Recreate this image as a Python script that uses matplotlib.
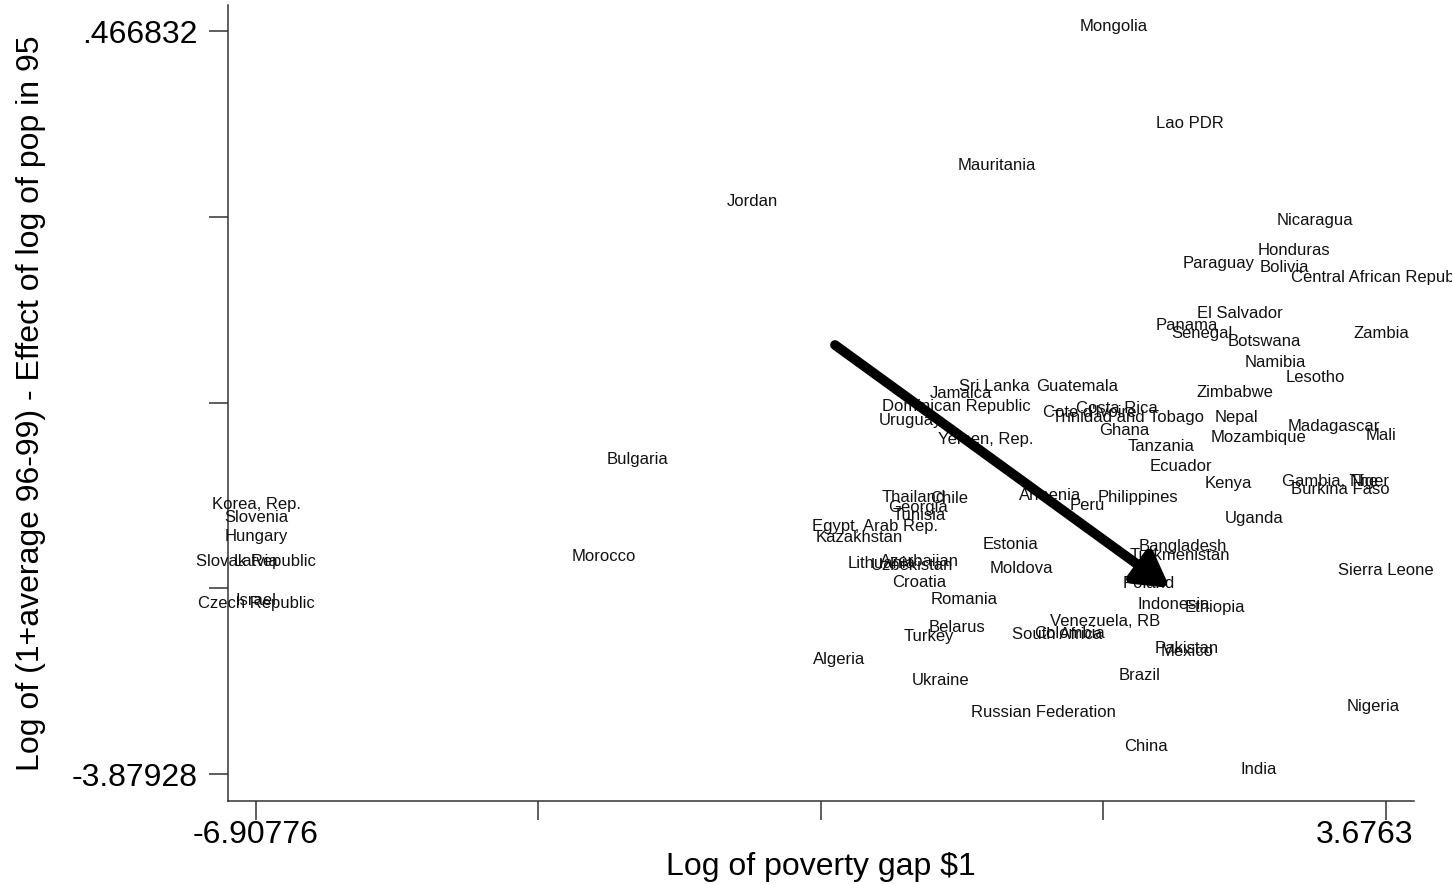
#!/usr/bin/env python3
import matplotlib
matplotlib.use("Agg")
import matplotlib.pyplot as plt
from matplotlib.transforms import ScaledTranslation

plt.rcParams["font.family"] = ["Liberation Sans", "DejaVu Sans"]

# log poverty gap $1 (x) vs residual growth measure (y), one label per country
countries = [
    "Mongolia", "Lao PDR", "Mauritania", "Jordan", "Nicaragua", "Honduras",
    "Paraguay", "Bolivia", "Central African Republic", "El Salvador", "Panama",
    "Senegal", "Botswana", "Zambia", "Namibia", "Lesotho", "Zimbabwe",
    "Sri Lanka", "Guatemala", "Jamaica", "Dominican Republic", "Uruguay",
    "Cote d'Ivoire", "Costa Rica", "Trinidad and Tobago", "Ghana", "Nepal",
    "Madagascar", "Mali", "Mozambique", "Yemen, Rep.", "Tanzania", "Ecuador",
    "Bulgaria", "Kenya", "Gambia, The", "Niger", "Burkina Faso", "Philippines",
    "Armenia", "Peru", "Thailand", "Chile", "Georgia", "Tunisia", "Uganda",
    "Egypt, Arab Rep.", "Kazakhstan", "Estonia", "Bangladesh", "Turkmenistan",
    "Lithuania", "Azerbaijan", "Uzbekistan", "Latvia", "Slovak Republic",
    "Moldova", "Morocco", "Sierra Leone", "Croatia", "Poland", "Romania",
    "Indonesia", "Ethiopia", "Venezuela, RB", "Belarus", "Turkey",
    "South Africa", "Colombia", "Pakistan", "Mexico", "Algeria", "Brazil",
    "Ukraine", "Russian Federation", "Nigeria", "China", "India",
    "Korea, Rep.", "Slovenia", "Hungary", "Czech Republic", "Israel",
]
log_pov_gap = [
    1.1287, 1.8406, 0.0327, -2.2620, 3.0113, 2.8146,
    2.1122, 2.7210, 3.6295, 2.3088, 1.8124,
    1.9529, 2.5336, 3.6295, 2.6366, 3.0113, 2.2620,
    0.0046, 0.7821, -0.3044, -0.3513, -0.7728,
    0.9039, 1.1567, 1.2598, 1.2223, 2.2713,
    3.1892, 3.6295, 2.4868, -0.0703, 1.5688, 1.7562,
    -3.3298, 2.1964, 3.1518, 3.5264, 3.2454, 1.3534,
    0.5292, 0.8757, -0.7447, -0.4169, -0.7072, -0.6979, 2.4400,
    -1.1100, -1.2598, 0.1638, 1.7749, 1.7468,
    -1.0444, -0.6979, -0.7634, -6.90776, -6.90776,
    0.2576, -3.6483, 3.6763, -0.6979, 1.4564, -0.2763,
    1.6906, 2.0746, 1.0443, -0.3419, -0.6042,
    0.5947, 0.7165, 1.8124, 1.8124, -1.4471, 1.3721,
    -0.4918, 0.4636, 3.5545, 1.4283, 2.4868,
    -6.90776, -6.90776, -6.90776, -6.90776, -6.90776,
]
growth_resid = [
    0.466832, -0.1006, -0.3462, -0.5568, -0.6680, -0.8434,
    -0.9195, -0.9429, -1.0014, -1.2120, -1.2822,
    -1.3289, -1.3757, -1.3289, -1.4986, -1.5863, -1.6740,
    -1.6389, -1.6389, -1.6799, -1.7559, -1.8378,
    -1.7910, -1.7676, -1.8203, -1.8963, -1.8203,
    -1.8729, -1.9256, -1.9373, -1.9490, -1.9899, -2.1069,
    -2.0659, -2.2063, -2.1946, -2.1946, -2.2414, -2.2882,
    -2.2765, -2.3350, -2.2882, -2.2941, -2.3467, -2.3935, -2.4111,
    -2.4578, -2.5222, -2.5631, -2.5748, -2.6275,
    -2.6743, -2.6626, -2.6860, -2.6626, -2.6626,
    -2.7035, -2.6333, -2.7152, -2.7854, -2.7913, -2.8849,
    -2.9141, -2.9317, -3.0136, -3.0486, -3.1013,
    -3.0896, -3.0837, -3.1715, -3.1890, -3.2358, -3.3294,
    -3.3586, -3.5458, -3.5107, -3.7447, -3.87928,
    -2.3292, -2.4052, -2.5164, -2.9082, -2.8907,
]

x_ticks = [-6.90776, -4.26175, -1.61573, 1.03029, 3.6763]
x_ticklabels = ["-6.90776", "", "", "", "3.6763"]
y_ticks = [0.466832, -0.61970, -1.70623, -2.79276, -3.87928]
y_ticklabels = [".466832", "", "", "", "-3.87928"]

# annotation arrow (start, end)
arrow_start = (-1.4846, -1.3699)
arrow_end = (1.6531, -2.7913)


def main():
    fig = plt.figure(figsize=(14.52, 8.84), dpi=100)
    ax = fig.add_axes([0.15702, 0.09389, 0.81681, 0.90045])

    for name, x, y in zip(countries, log_pov_gap, growth_resid):
        ax.text(x, y, name, ha="center", va="baseline", fontsize=12,
                color="#111111", clip_on=False)

    ax.annotate("", xy=arrow_end, xytext=arrow_start,
                arrowprops=dict(arrowstyle="-|>,head_length=0.7,head_width=0.4",
                                mutation_scale=28, lw=7, color="black",
                                shrinkA=0, shrinkB=0))

    ax.set_xlim(-7.1700, 3.9386)
    ax.set_ylim(-4.0372, 0.6189)

    ax.set_xticks(x_ticks)
    ax.set_xticklabels(x_ticklabels)
    ax.set_yticks(y_ticks)
    ax.set_yticklabels(y_ticklabels)
    ax.tick_params(axis="x", length=14, width=1.1, pad=0, labelsize=23,
                   color="#333333")
    ax.tick_params(axis="y", length=14, width=1.1, pad=8, labelsize=23,
                   color="#333333")
    # the last x label sits pulled in from its tick, as in the original
    last = ax.get_xticklabels()[-1]
    last.set_transform(last.get_transform() +
                       ScaledTranslation(-0.21, 0, fig.dpi_scale_trans))

    for side in ("top", "right"):
        ax.spines[side].set_visible(False)
    for side in ("left", "bottom"):
        ax.spines[side].set_linewidth(1.1)
        ax.spines[side].set_color("#333333")

    ax.set_xlabel("Log of poverty gap $1", fontsize=23, labelpad=1)
    ax.set_ylabel("Log of (1+average 96-99) - Effect of log of pop in 95",
                  fontsize=23, labelpad=18)

    fig.savefig("out.png", dpi=100)


if __name__ == "__main__":
    main()
